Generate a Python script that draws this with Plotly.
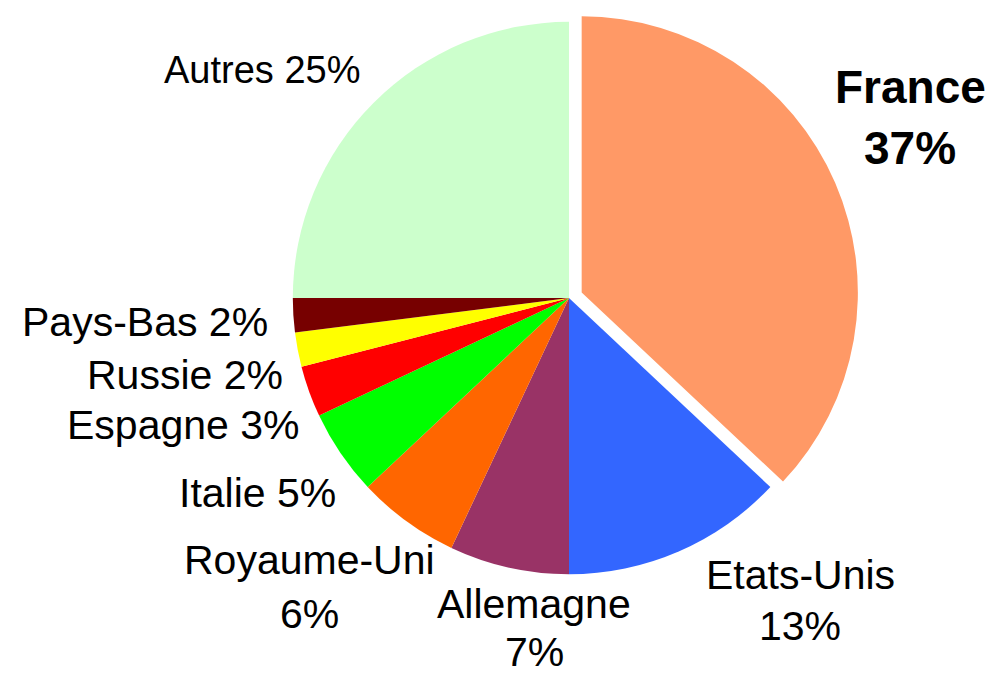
import plotly.graph_objects as go

W, H = 994, 677
OFF = 8  # page body margin shifts the figure by 8px in the screenshot

countries = ["France", "Etats-Unis", "Allemagne", "Royaume-Uni", "Italie",
             "Espagne", "Russie", "Pays-Bas", "Autres"]
shares = [37, 13, 7, 6, 5, 3, 2, 2, 25]
colors = ["#FF9966", "#3366FF", "#993366", "#FF6600", "#00FF00",
          "#FF0000", "#FFFF00", "#770000", "#CCFFCC"]
pulls = [0.05, 0, 0, 0, 0, 0, 0, 0, 0]

# label placement in screen pixels (visual centre of first line) – styling only
label_layout = {
    "France":      dict(x=910, y=87,  anchor="center", two=True, bold=True, size=46, gap=61),
    "Etats-Unis":  dict(x=800, y=575, anchor="center", two=True, size=41, gap=51),
    "Allemagne":   dict(x=534, y=604, anchor="center", two=True, size=41, gap=48),
    "Royaume-Uni": dict(x=309, y=560, anchor="center", two=True, size=41, gap=54),
    "Italie":      dict(x=338, y=493, anchor="right",  two=False, size=41),
    "Espagne":     dict(x=302, y=425, anchor="right",  two=False, size=41),
    "Russie":      dict(x=285, y=375, anchor="right",  two=False, size=41),
    "Pays-Bas":    dict(x=270, y=322, anchor="right",  two=False, size=41),
    "Autres":      dict(x=262, y=70,  anchor="center", two=False, size=38),
}

FONT = "Liberation Sans, Arial, sans-serif"

# pie centre / half-size of domain in screen pixels
cx, cy, half = 569, 298, 290
fx, fy = cx - OFF, cy - OFF

fig = go.Figure(go.Pie(
    labels=countries,
    values=shares,
    marker=dict(colors=colors, line=dict(width=0)),
    pull=pulls,
    sort=False,
    direction="clockwise",
    rotation=0,
    textinfo="none",
    hoverinfo="label+percent",
    showlegend=False,
    domain=dict(x=[(fx - half) / W, (fx + half) / W],
                y=[(H - fy - half) / H, (H - fy + half) / H]),
))

annotations = []
for name, val in zip(countries, shares):
    L = label_layout[name]
    pct = f"{val}%"
    bold = L.get("bold", False)
    lines = [name, pct] if L["two"] else [f"{name} {pct}"]
    for i, txt in enumerate(lines):
        annotations.append(dict(
            text=f"<b>{txt}</b>" if bold else txt,
            x=(L["x"] - OFF) / W,
            y=1 - (L["y"] - OFF + i * L.get("gap", 0)) / H,
            xref="paper", yref="paper",
            xanchor=L["anchor"], yanchor="middle",
            showarrow=False,
            font=dict(family=FONT, size=L["size"], color="#000000"),
        ))

fig.update_layout(
    width=W, height=H,
    margin=dict(l=0, r=0, t=0, b=0),
    paper_bgcolor="#FFFFFF",
    plot_bgcolor="#FFFFFF",
    annotations=annotations,
)

fig.write_html("out.html")
